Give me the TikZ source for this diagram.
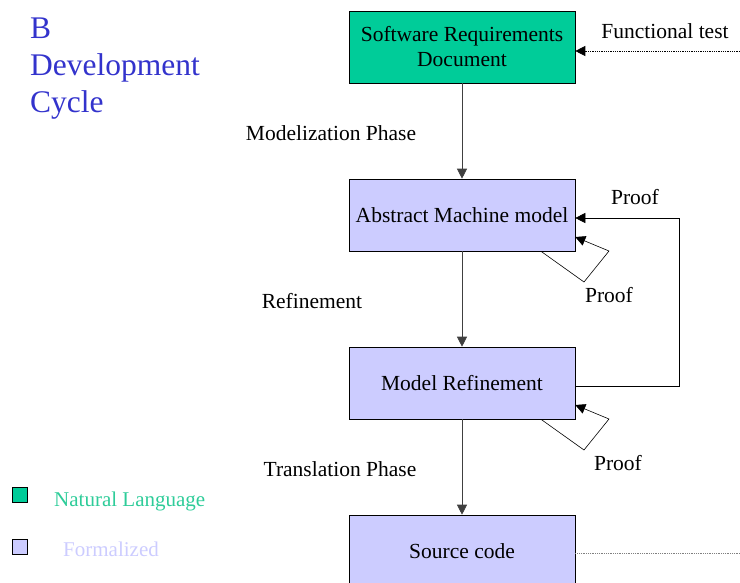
\documentclass[tikz,border=0pt]{standalone}
\usepackage{fontspec}
\setmainfont{Liberation Serif}
\usetikzlibrary{arrows.meta}
\definecolor{natgreen}{HTML}{00CC99}
\definecolor{formal}{HTML}{CCCCFF}
\definecolor{titleblue}{HTML}{3333CC}
\definecolor{leggreen}{HTML}{2ECC99}
\definecolor{lineg}{HTML}{404040}
\tikzset{
  x=1pt, y=-1pt,
  phase/.style={draw=black, line width=0.6pt, minimum width=226pt, minimum height=72pt,
    inner sep=0pt, align=center, font=\fontsize{21.5}{25}\selectfont},
  flow/.style={draw=lineg, line width=0.8pt, -{Triangle[length=10pt,width=10pt]}},
  loop/.style={draw=black, line width=0.6pt, -{Triangle[length=10pt,width=10pt]}},
  dots/.style={draw=gray, densely dotted, line width=0.8pt},
  lbl/.style={font=\fontsize{21.5}{25}\selectfont, inner sep=0pt},
  legbox/.style={draw=black, line width=0.8pt, minimum size=15pt, inner sep=0pt},
}
\begin{document}
\begin{tikzpicture}
\useasboundingbox (0,0) rectangle (740,582);
\clip (0,0) rectangle (740,582);

% title
\node[anchor=north west, align=left, text=titleblue, inner sep=0pt,
      font=\fontsize{31.5}{37}\selectfont] (title) at (30,18) {B\\Development\\Cycle};

% phases of the cycle
\node[phase, fill=natgreen] (srd) at (462,47) {Software Requirements\\Document};
\node[phase, fill=formal] (amm) at (462,215) {Abstract Machine model};
\node[phase, fill=formal] (mr) at (462,383) {Model Refinement};
\node[phase, fill=formal] (sc) at (462,551) {Source code};

% main flow
\draw[flow] (srd) -- (amm);
\draw[flow] (amm) -- (mr);
\draw[flow] (mr) -- (sc);

\node[lbl] (lmod) at (331,133) {Modelization Phase};
\node[lbl] (lref) at (312,301) {Refinement};
\node[lbl] (ltra) at (340,469) {Translation Phase};

% functional test feedback
\coordinate (ftend) at (740,51);
\draw[dots, -{Triangle[length=10pt,width=10pt]}, black] (ftend) -- (srd.east |- ftend);
\node[lbl] (lft) at (665,31) {Functional test};

% source code link
\coordinate (scend) at (740,553);
\draw[dots] (sc.east |- scend) -- (scend);

% proof feedback from refinement to abstract model
\coordinate (pr) at (679,386);
\draw[loop] (mr.east |- pr) -- (pr) -- (679,218) -- (amm.east |- 0,218);
\node[lbl] (lp1) at (635,197) {Proof};

% self proofs
\draw[loop] ([xshift=79pt]amm.south) -- (584,282) -- (609,251) -- ([yshift=-22pt]amm.east);
\node[lbl] (lp2) at (609,295) {Proof};
\draw[loop] ([xshift=79pt]mr.south) -- (584,450) -- (609,419) -- ([yshift=-22pt]mr.east);
\node[lbl] (lp3) at (618,463) {Proof};

% legend
\node[legbox, fill=natgreen] (kg) at (20,495) {};
\node[legbox, fill=formal] (kf) at (20,547) {};
\node[anchor=west, inner sep=0pt, text=leggreen, font=\fontsize{21}{24}\selectfont] (tg) at (54,501) {Natural Language};
\node[anchor=west, inner sep=0pt, text=formal, font=\fontsize{21}{24}\selectfont] (tf) at (63,549) {Formalized};
\end{tikzpicture}
\end{document}
